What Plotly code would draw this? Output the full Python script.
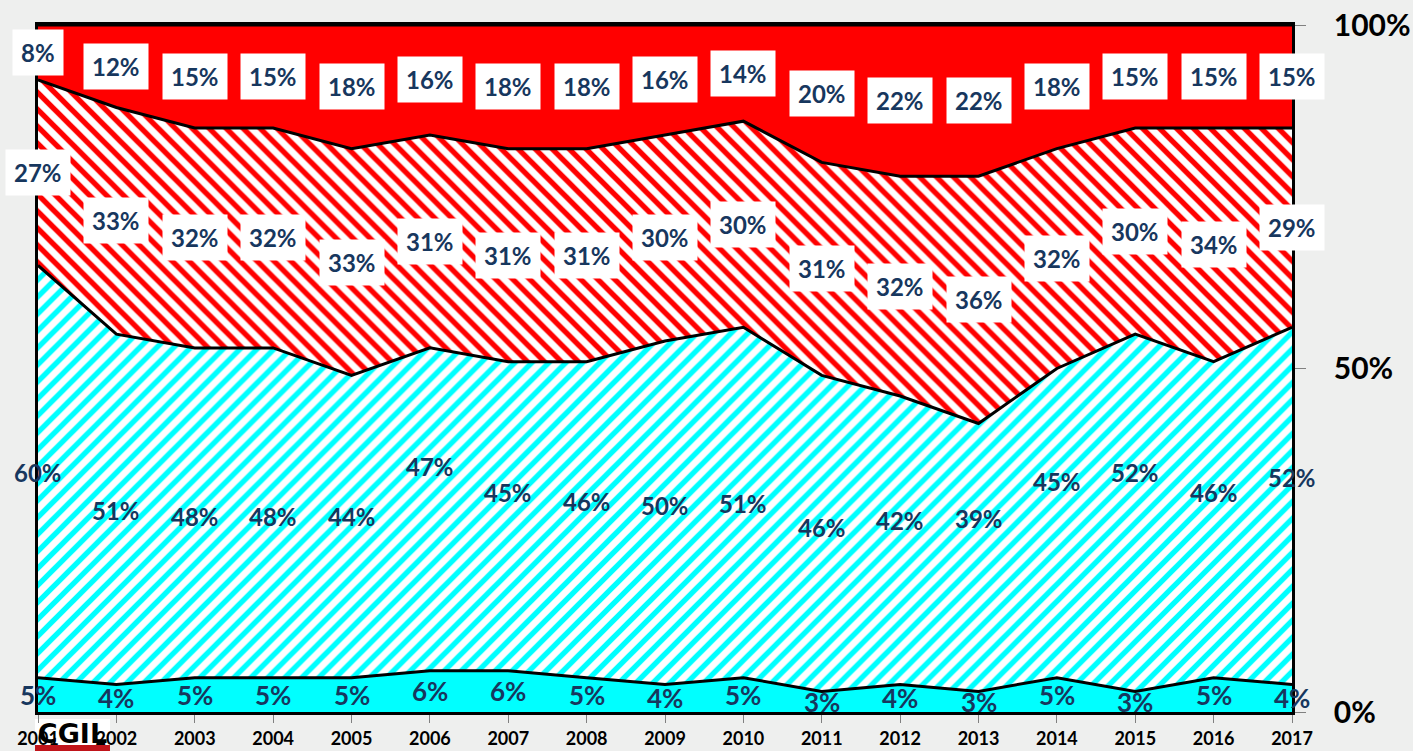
import plotly.graph_objects as go

years = list(range(2001, 2018))
cyan_solid = [5, 4, 5, 5, 5, 6, 6, 5, 4, 5, 3, 4, 3, 5, 3, 5, 4]
cyan_hatch = [60, 51, 48, 48, 44, 47, 45, 46, 50, 51, 46, 42, 39, 45, 52, 46, 52]
red_hatch = [27, 33, 32, 32, 33, 31, 31, 31, 30, 30, 31, 32, 36, 32, 30, 34, 29]
red_solid = [8, 12, 15, 15, 18, 16, 18, 18, 16, 14, 20, 22, 22, 18, 15, 15, 15]
# vertical placement (in %) of the labels of the hatched cyan band
cyan_hatch_label_y = [34.8, 29.3, 28.5, 28.5, 28.5, 35.8, 32.0, 30.6, 30.1, 30.3,
                      26.8, 27.9, 28.1, 33.6, 34.9, 32.0, 34.2]

NAVY = "#17375e"
FONT = "Lato"

fig = go.Figure()
line = dict(color="black", width=3)
fig.add_trace(go.Scatter(x=years, y=cyan_solid, stackgroup="one", mode="lines",
                         line=line, fillcolor="#00ffff", hoverinfo="skip"))
fig.add_trace(go.Scatter(x=years, y=cyan_hatch, stackgroup="one", mode="lines",
                         line=line, hoverinfo="skip",
                         fillpattern=dict(shape="/", fgcolor="#00ffff", bgcolor="white",
                                          size=12, solidity=0.45, fillmode="replace")))
fig.add_trace(go.Scatter(x=years, y=red_hatch, stackgroup="one", mode="lines",
                         line=line, hoverinfo="skip",
                         fillpattern=dict(shape="\\", fgcolor="#ff0000", bgcolor="white",
                                          size=12, solidity=0.45, fillmode="replace")))
fig.add_trace(go.Scatter(x=years, y=red_solid, stackgroup="one", mode="lines",
                         line=line, fillcolor="#ff0000", hoverinfo="skip"))

annotations = []
lab_font = dict(family=FONT, size=24, color=NAVY, weight="bold")
for i, yr in enumerate(years):
    b1 = cyan_solid[i]
    b2 = b1 + cyan_hatch[i]
    b3 = b2 + red_hatch[i]
    b4 = b3 + red_solid[i]
    annotations.append(dict(x=yr, y=b1 / 2, text=f"{cyan_solid[i]}%", showarrow=False,
                            font=dict(family=FONT, size=26, color=NAVY, weight="bold")))
    annotations.append(dict(x=yr, y=cyan_hatch_label_y[i], text=f"{cyan_hatch[i]}%",
                            showarrow=False, font=lab_font))
    annotations.append(dict(x=yr, y=(b2 + b3) / 2, text=f"{red_hatch[i]}%", showarrow=False,
                            font=lab_font, bgcolor="white", borderpad=8))
    annotations.append(dict(x=yr, y=(b3 + b4) / 2, text=f"{red_solid[i]}%", showarrow=False,
                            font=lab_font, bgcolor="white", borderpad=8))

# CGIL logo (drawn below the axes so the year labels stay on top, as in the original)
shapes = [
    dict(type="rect", xref="paper", yref="paper", x0=-0.0024, x1=0.0574,
         y0=-0.048, y1=-0.0102, fillcolor="white", line=dict(width=0), layer="below",
         label=dict(text="CGIL", textposition="middle center",
                    font=dict(family="DejaVu Sans", size=27, color="black", weight="bold"))),
    dict(type="rect", xref="paper", yref="paper", x0=-0.0024, x1=0.0574,
         y0=-0.07, y1=-0.048, fillcolor="#c0141a", line=dict(width=0), layer="below"),
]

fig.update_layout(
    width=1413, height=751, autosize=False,
    margin=dict(l=38, r=121, t=25, b=39),
    paper_bgcolor="#eeefee", plot_bgcolor="#eeefee",
    showlegend=False,
    annotations=annotations, shapes=shapes,
    xaxis=dict(range=[2001, 2017], tickvals=years, ticktext=[str(y) for y in years],
               showgrid=False, zeroline=False, showline=True, linecolor="black",
               linewidth=3, mirror=True, ticks="outside", ticklen=8, tickcolor="#808080",
               automargin=False,
               tickfont=dict(family=FONT, size=18, color="black", weight="bold")),
    yaxis=dict(range=[0, 100], side="right", tickvals=[0, 50, 100],
               ticktext=["0%", "50%", "100%"], showgrid=False, zeroline=False,
               showline=True, linecolor="black", linewidth=2.5, mirror=True,
               ticks="outside", ticklen=11, tickcolor="#808080", ticklabelstandoff=22,
               automargin=False,
               tickfont=dict(family=FONT, size=30, color="black", weight="bold")),
)

fig.write_html("out.html", config={"displayModeBar": False},
               post_script="document.body.style.margin='0';document.body.style.overflow='hidden';")
